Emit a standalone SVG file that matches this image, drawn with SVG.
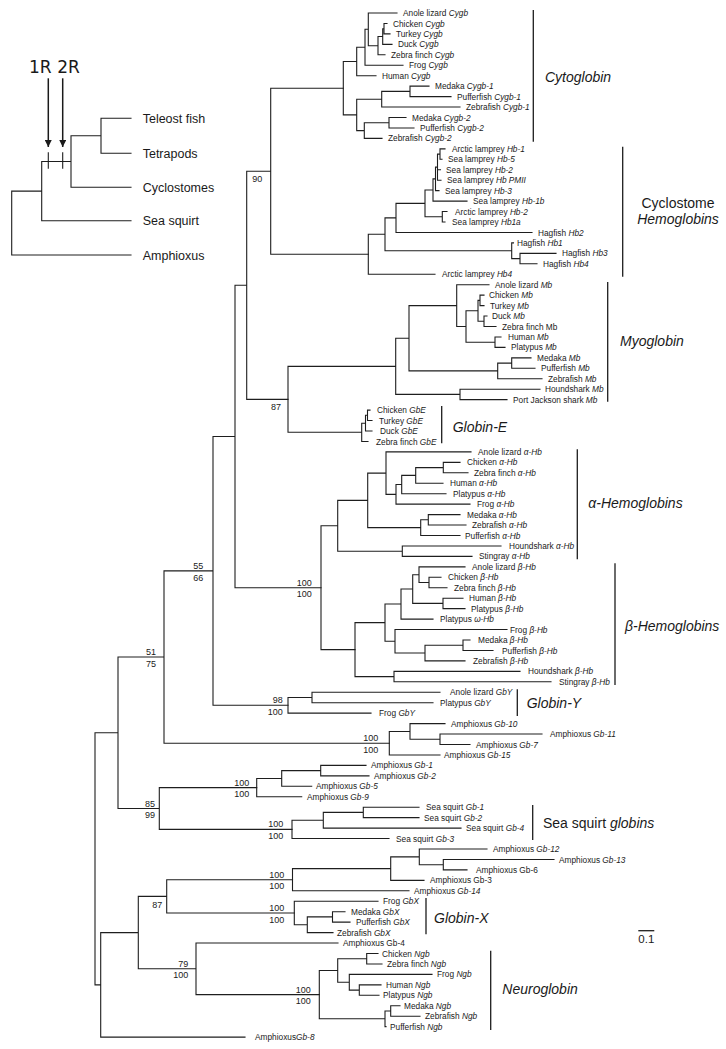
<svg xmlns="http://www.w3.org/2000/svg" width="726" height="1049" viewBox="0 0 726 1049">
<style>
.e{fill:none;stroke:#1e1e1e;stroke-width:1.1;stroke-linecap:square}
.b{fill:none;stroke:#1e1e1e;stroke-width:1.3}
.l{font-family:"Liberation Sans",Arial,sans-serif;font-size:8.3px;fill:#1a1a1a}
.i{font-style:italic}
.s{font-family:"Liberation Sans",Arial,sans-serif;font-size:9px;fill:#1a1a1a;text-anchor:end}
.g{font-family:"Liberation Sans",Arial,sans-serif;font-size:14px;fill:#1a1a1a}
.n{font-family:"Liberation Sans",Arial,sans-serif;font-size:12.5px;fill:#1a1a1a}
.r{font-family:"DejaVu Sans",sans-serif;font-size:17px;fill:#1a1a1a}
</style>
<defs>
<marker id="ah" viewBox="0 0 10 10" refX="10" refY="5" markerWidth="4.6" markerHeight="4.6" orient="auto" markerUnits="strokeWidth">
<path d="M0 0L10 5L0 10Z" fill="#1a1a1a"/>
</marker>
</defs>
<rect width="726" height="1049" fill="#fff"/>

<g id="inset">
<path class="e" d="M11.7 191.1V255M11.7 191.1H41.7M11.7 255H131M41.7 161.5V220.7M41.7 161.5H71M41.7 220.7H131M71 135.8V187.3M71 135.8H101M71 187.3H131M101 118.3V153.3M101 118.3H131M101 153.3H131"/>
<path class="e" d="M48.3 152.7V168.3M62.7 152.7V168.3"/>
<path fill="none" stroke="#1a1a1a" stroke-width="1.5" marker-end="url(#ah)" d="M48.3 78.3V147"/>
<path fill="none" stroke="#1a1a1a" stroke-width="1.5" marker-end="url(#ah)" d="M62.7 78.3V147"/>
<text id="i-1r" class="r" x="29" y="72.7">1R</text>
<text id="i-2r" class="r" x="57.3" y="72.7">2R</text>
<text id="i-teleost" class="n" x="142.7" y="122.8">Teleost fish</text>
<text id="i-tetrapods" class="n" x="142.7" y="157.8">Tetrapods</text>
<text id="i-cyclostomes" class="n" x="142.7" y="191.8">Cyclostomes</text>
<text id="i-seasquirt" class="n" x="142.7" y="225.2">Sea squirt</text>
<text id="i-amphioxus" class="n" x="142.7" y="259.5">Amphioxus</text>
</g>

<g id="connectors">
<path class="e" d="M95 732.8V984.9M95 732.8H118M95 984.9H100.7M118 657.05V808.5M118 657.05H164M118 808.5H159.3M164 570.9V743.2M164 570.9H213M164 743.2H389.3M213 436.5V705.3M213 436.5H235M213 705.3H288M235 285.3V587.7M235 285.3H246.7M235 587.7H321M246.7 171.25V399.4M246.7 171.25H270.7M246.7 399.4H288M270.7 88.2V254.3M270.7 88.2H343.3M270.7 254.3H368.3M100.7 932.6V1037.1M100.7 932.6H138.3M100.7 1037.1H245M138.3 896.4V968.8M138.3 896.4H166.7M138.3 968.8H196M166.7 879.7V913M166.7 879.7H292.5M166.7 913H294.3M159.3 787.6V829.4M159.3 787.6H256.7M159.3 829.4H292M196 943.05V994.6M196 943.05H338M196 994.6H319.3"/>
<path class="e" d="M343.3 61.5V114.9M343.3 61.5H356.7M343.3 114.9H356.7M356.7 47.3V75.7M356.7 47.3H365M356.7 75.7H376M365 29.3V65.25M365 29.3H368.3M365 65.25H403M368.3 13V45.7M368.3 13H397M368.3 45.7H378M378 36.5V54.8M378 36.5H382.7M378 54.8H385M382.7 28.7V44.35M382.7 28.7H384M382.7 44.35H392M384 23.45V33.9M384 23.45H387M384 33.9H390M356.7 99.2V130.6M356.7 99.2H381.7M356.7 130.6H364.3M381.7 91.4V107.05M381.7 91.4H410M381.7 107.05H460M410 86.15V96.6M410 86.15H429M410 96.6H451M364.3 122.7V138.4M364.3 122.7H389M364.3 138.4H382M389 117.5V127.95M389 117.5H406M389 127.95H414"/>
<path class="e" d="M368.3 234.3V274.25M368.3 234.3H385M368.3 274.25H435M385 217.9V250.75M385 217.9H396M385 250.75H511.7M396 203.4V232.45M396 203.4H425M396 232.45H532M425 190V216.8M425 190H433M425 216.8H442.3M433 178.9V201.1M433 178.9H435.5M433 201.1H467M435.5 167.1V190.65M435.5 167.1H437.5M435.5 190.65H439M437.5 154.1V180.2M437.5 154.1H440M437.5 169.75H440.5M437.5 180.2H441M440 148.85V159.3M440 148.85H445M440 159.3H442M442.3 211.55V222M442.3 211.55H447M442.3 222H445M511.7 242.9V258.6M511.7 242.9H513.5M511.7 258.6H520M520 253.35V263.8M520 253.35H556M520 263.8H537"/>
<path class="e" d="M288 366.4V432.3M288 366.4H395.7M288 432.3H361.7M395.7 338.3V394.4M395.7 338.3H409M395.7 394.4H460M409 305.6V370.9M409 305.6H456.7M409 370.9H497.7M456.7 284.7V326.5M456.7 284.7H489M456.7 326.5H466M466 310.8V342.2M466 310.8H478M466 342.2H495M478 300.4V321.3M478 300.4H480M478 321.3H484M480 295.15V305.6M480 295.15H484M480 305.6H484M484 316.05V326.5M484 316.05H487M484 326.5H496M495 336.95V347.4M495 336.95H501M495 347.4H505M497.7 363.1V378.75M497.7 363.1H511.7M497.7 378.75H542M511.7 357.85V368.3M511.7 357.85H531M511.7 368.3H535M460 389.2V399.65M460 389.2H540M460 399.65H507M361.7 423.2V441.45M361.7 423.2H365.5M361.7 441.45H368M365.5 415.3V431M365.5 415.3H367.5M365.5 431H372M367.5 410.1V420.55M367.5 410.1H370M367.5 420.55H372"/>
<path class="e" d="M321 525.8V649.6M321 525.8H337.7M321 649.6H355M337.7 500.4V551.2M337.7 500.4H367.7M337.7 551.2H402.3M367.7 473.1V527.65M367.7 473.1H386M367.7 527.65H420.7M386 451.9V494.35M386 451.9H471M386 494.35H396M396 484.55V504.15M396 484.55H401.7M396 504.15H470M401.7 475.4V493.7M401.7 475.4H415.7M401.7 493.7H446M415.7 467.6V483.25M415.7 467.6H443.3M415.7 483.25H443M443.3 462.35V472.8M443.3 462.35H460M443.3 472.8H468M420.7 519.8V535.5M420.7 519.8H428.3M420.7 535.5H460M428.3 514.6V525.05M428.3 514.6H460M428.3 525.05H466M402.3 545.95V556.4M402.3 545.95H501M402.3 556.4H472"/>
<path class="e" d="M355 622.65V676.6M355 622.65H385M355 676.6H394M385 604V641.3M385 604H401M385 641.3H395M401 589V619.1M401 589H412.7M401 619.1H433M412.7 574.7V603.4M412.7 574.7H419M412.7 603.4H443M419 566.85V582.5M419 566.85H465M419 582.5H429M429 577.3V587.75M429 577.3H441M429 587.75H447M443 598.2V608.65M443 598.2H463M443 608.65H465M395 629.55V653.05M395 629.55H507M395 653.05H425M425 645.2V660.9M425 645.2H463M425 660.9H465M463 640V650.45M463 640H470M463 650.45H493M394 671.35V681.8M394 671.35H520M394 681.8H551"/>
<path class="e" d="M288 697.5V713.15M288 697.5H312M288 713.15H371M312 692.25V702.7M312 692.25H440M312 702.7H433M389.3 731.45V754.95M389.3 731.45H410M389.3 754.95H440M410 723.6V739.3M410 723.6H445M410 739.3H440M440 734.05V744.5M440 734.05H542M440 744.5H470"/>
<path class="e" d="M256.7 778.45V796.75M256.7 778.45H281.7M256.7 796.75H301.7M281.7 770.6V786.3M281.7 770.6H320.7M281.7 786.3H311.7M320.7 765.4V775.85M320.7 765.4H366M320.7 775.85H369M292 820.3V838.55M292 820.3H323.3M292 838.55H389M323.3 812.4V828.1M323.3 812.4H363.3M323.3 828.1H461M363.3 807.2V817.65M363.3 807.2H419M363.3 817.65H419"/>
<path class="e" d="M292.5 868.6V890.8M292.5 868.6H390.7M292.5 890.8H409M390.7 856.9V880.35M390.7 856.9H419.3M390.7 880.35H424M419.3 849V864.7M419.3 849H487M419.3 864.7H443.3M443.3 859.45V869.9M443.3 859.45H554M443.3 869.9H467M294.3 901.25V924.8M294.3 901.25H378M294.3 924.8H307.3M307.3 916.9V932.6M307.3 916.9H332.5M307.3 932.6H333M332.5 911.7V922.15M332.5 911.7H345M332.5 922.15H350"/>
<path class="e" d="M319.3 970.45V1018.8M319.3 970.45H337.7M319.3 1018.8H385M337.7 958.7V982.2M337.7 958.7H366.7M337.7 982.2H349.3M366.7 953.5V963.95M366.7 953.5H378M366.7 963.95H382M349.3 974.4V990.1M349.3 974.4H432M349.3 990.1H359.3M359.3 984.85V995.3M359.3 984.85H381M359.3 995.3H379M385 1011V1026.65M385 1011H390.7M385 1026.65H386M390.7 1005.75V1016.2M390.7 1005.75H400M390.7 1016.2H420"/>
</g>

<g id="brackets">
<path class="b" d="M533.3 10V141.7M622.7 146.7V276.7M607.7 282V401.7M441.7 406V443.3M577.3 449.3V559.3M615 563.3V685M517.3 689.3V716M532.7 805V840M426 898V934.3M490.7 950.7V1030"/>
</g>

<g id="group-labels">
<text id="g-cytoglobin" class="g i" x="545" y="81.7">Cytoglobin</text>
<text id="g-cyclostome" class="g" x="678" y="207.7" text-anchor="middle">Cyclostome</text>
<text id="g-cyclostome-hb" class="g i" x="678" y="224.3" text-anchor="middle">Hemoglobins</text>
<text id="g-myoglobin" class="g i" x="620" y="345.7">Myoglobin</text>
<text id="g-globine" class="g i" x="452.7" y="432.3">Globin-E</text>
<text id="g-alpha" class="g i" x="588.3" y="508.3">α-Hemoglobins</text>
<text id="g-beta" class="g i" x="625" y="631">β-Hemoglobins</text>
<text id="g-globiny" class="g i" x="526.7" y="707.7">Globin-Y</text>
<text id="g-seasquirt" class="g" x="543" y="828.3">Sea squirt <tspan class="i">globins</tspan></text>
<text id="g-globinx" class="g i" x="434" y="923.3">Globin-X</text>
<text id="g-neuroglobin" class="g i" x="502.3" y="994.3">Neuroglobin</text>
</g>

<g id="scale-bar">
<path class="b" d="M638.3 930.7H654.3"/>
<text id="scale-label" x="646.3" y="943" text-anchor="middle" font-family="Liberation Sans, Arial, sans-serif" font-size="11.5" fill="#1a1a1a">0.1</text>
</g>

<g id="support-values">
<text class="s" x="262.3" y="181.5">90</text>
<text class="s" x="281" y="410">87</text>
<text class="s" x="203.3" y="569">55</text>
<text class="s" x="203.3" y="580.5">66</text>
<text class="s" x="311.7" y="585.5">100</text>
<text class="s" x="311.7" y="597">100</text>
<text class="s" x="156" y="654.5">51</text>
<text class="s" x="156" y="666.5">75</text>
<text class="s" x="282.7" y="703.3">98</text>
<text class="s" x="282.7" y="714.8">100</text>
<text class="s" x="378.3" y="741.2">100</text>
<text class="s" x="378.3" y="752.7">100</text>
<text class="s" x="249.3" y="785.6">100</text>
<text class="s" x="249.3" y="797.2">100</text>
<text class="s" x="155" y="806.5">85</text>
<text class="s" x="155" y="818">99</text>
<text class="s" x="283.3" y="827.4">100</text>
<text class="s" x="283.3" y="839">100</text>
<text class="s" x="284.3" y="877.7">100</text>
<text class="s" x="284.3" y="889.3">100</text>
<text class="s" x="284.3" y="911">100</text>
<text class="s" x="284.3" y="922.6">100</text>
<text class="s" x="162.3" y="907.5">87</text>
<text class="s" x="188.3" y="966.8">79</text>
<text class="s" x="188.3" y="978.4">100</text>
<text class="s" x="310.7" y="992.6">100</text>
<text class="s" x="310.7" y="1004.2">100</text>
</g>

<g id="clade-cytoglobin" class="l">
<text id="anole-cygb" x="403" y="16">Anole lizard <tspan class="i">Cygb</tspan></text>
<text id="chicken-cygb" x="393" y="26.5">Chicken <tspan class="i">Cygb</tspan></text>
<text id="turkey-cygb" x="396" y="36.9">Turkey <tspan class="i">Cygb</tspan></text>
<text id="duck-cygb" x="398" y="47.4">Duck <tspan class="i">Cygb</tspan></text>
<text id="zf-cygb" x="391" y="57.8">Zebra finch <tspan class="i">Cygb</tspan></text>
<text id="frog-cygb" x="409" y="68.3">Frog <tspan class="i">Cygb</tspan></text>
<text id="human-cygb" x="382" y="78.7">Human <tspan class="i">Cygb</tspan></text>
<text id="medaka-cygb1" x="435" y="89.2">Medaka <tspan class="i">Cygb-1</tspan></text>
<text id="puffer-cygb1" x="457" y="99.6">Pufferfish <tspan class="i">Cygb-1</tspan></text>
<text id="zebrafish-cygb1" x="466" y="110.1">Zebrafish <tspan class="i">Cygb-1</tspan></text>
<text id="medaka-cygb2" x="412" y="120.5">Medaka <tspan class="i">Cygb-2</tspan></text>
<text id="puffer-cygb2" x="420" y="131">Pufferfish <tspan class="i">Cygb-2</tspan></text>
<text id="zebrafish-cygb2" x="388" y="141.4">Zebrafish <tspan class="i">Cygb-2</tspan></text>
</g>

<g id="clade-cyclostome" class="l">
<text id="al-hb1" x="452" y="151.9">Arctic lamprey <tspan class="i">Hb-1</tspan></text>
<text id="sl-hb5" x="448" y="162.3">Sea lamprey <tspan class="i">Hb-5</tspan></text>
<text id="sl-hb2" x="446" y="172.8">Sea lamprey <tspan class="i">Hb-2</tspan></text>
<text id="sl-pmii" x="447" y="183.2">Sea lamprey <tspan class="i">Hb PMII</tspan></text>
<text id="sl-hb3" x="445" y="193.7">Sea lamprey <tspan class="i">Hb-3</tspan></text>
<text id="sl-hb1b" x="473" y="204.1">Sea lamprey <tspan class="i">Hb-1b</tspan></text>
<text id="al-hb2" x="455" y="214.6">Arctic lamprey <tspan class="i">Hb-2</tspan></text>
<text id="sl-hb1a" x="452" y="225">Sea lamprey <tspan class="i">Hb1a</tspan></text>
<text id="hf-hb2" x="538" y="235.5">Hagfish <tspan class="i">Hb2</tspan></text>
<text id="hf-hb1" x="517" y="245.9">Hagfish <tspan class="i">Hb1</tspan></text>
<text id="hf-hb3" x="562" y="256.4">Hagfish <tspan class="i">Hb3</tspan></text>
<text id="hf-hb4" x="543" y="266.8">Hagfish <tspan class="i">Hb4</tspan></text>
<text id="al-hb4" x="442" y="277.3">Arctic lamprey <tspan class="i">Hb4</tspan></text>
</g>

<g id="clade-myoglobin" class="l">
<text id="anole-mb" x="495" y="287.7">Anole lizard <tspan class="i">Mb</tspan></text>
<text id="chicken-mb" x="489" y="298.2">Chicken <tspan class="i">Mb</tspan></text>
<text id="turkey-mb" x="490" y="308.6">Turkey <tspan class="i">Mb</tspan></text>
<text id="duck-mb" x="492" y="319.1">Duck <tspan class="i">Mb</tspan></text>
<text id="zf-mb" x="502" y="329.5">Zebra finch Mb</text>
<text id="human-mb" x="508" y="340">Human <tspan class="i">Mb</tspan></text>
<text id="platypus-mb" x="511" y="350.4">Platypus <tspan class="i">Mb</tspan></text>
<text id="medaka-mb" x="537" y="360.9">Medaka <tspan class="i">Mb</tspan></text>
<text id="puffer-mb" x="541" y="371.3">Pufferfish <tspan class="i">Mb</tspan></text>
<text id="zebrafish-mb" x="548" y="381.8">Zebrafish <tspan class="i">Mb</tspan></text>
<text id="houndshark-mb" x="545" y="392.2">Houndshark <tspan class="i">Mb</tspan></text>
<text id="pjshark-mb" x="513" y="402.7">Port Jackson shark <tspan class="i">Mb</tspan></text>
</g>

<g id="clade-globin-e" class="l">
<text id="chicken-gbe" x="377" y="413.1">Chicken <tspan class="i">GbE</tspan></text>
<text id="turkey-gbe" x="379" y="423.6">Turkey <tspan class="i">GbE</tspan></text>
<text id="duck-gbe" x="380" y="434">Duck <tspan class="i">GbE</tspan></text>
<text id="zf-gbe" x="376" y="444.5">Zebra finch <tspan class="i">GbE</tspan></text>
</g>

<g id="clade-alpha" class="l">
<text id="anole-ahb" x="478" y="454.9">Anole lizard <tspan class="i">α-Hb</tspan></text>
<text id="chicken-ahb" x="467" y="465.4">Chicken <tspan class="i">α-Hb</tspan></text>
<text id="zf-ahb" x="474" y="475.8">Zebra finch <tspan class="i">α-Hb</tspan></text>
<text id="human-ahb" x="450" y="486.3">Human <tspan class="i">α-Hb</tspan></text>
<text id="platypus-ahb" x="453" y="496.7">Platypus <tspan class="i">α-Hb</tspan></text>
<text id="frog-ahb" x="477" y="507.2">Frog <tspan class="i">α-Hb</tspan></text>
<text id="medaka-ahb" x="467" y="517.6">Medaka <tspan class="i">α-Hb</tspan></text>
<text id="zebrafish-ahb" x="472" y="528.1">Zebrafish <tspan class="i">α-Hb</tspan></text>
<text id="puffer-ahb" x="465" y="538.5">Pufferfish <tspan class="i">α-Hb</tspan></text>
<text id="houndshark-ahb" x="509" y="549">Houndshark <tspan class="i">α-Hb</tspan></text>
<text id="stingray-ahb" x="479" y="559.4">Stingray <tspan class="i">α-Hb</tspan></text>
</g>

<g id="clade-beta" class="l">
<text id="anole-bhb" x="472" y="569.9">Anole lizard <tspan class="i">β-Hb</tspan></text>
<text id="chicken-bhb" x="448" y="580.3">Chicken <tspan class="i">β-Hb</tspan></text>
<text id="zf-bhb" x="454" y="590.8">Zebra finch <tspan class="i">β-Hb</tspan></text>
<text id="human-bhb" x="469" y="601.2">Human <tspan class="i">β-Hb</tspan></text>
<text id="platypus-bhb" x="471" y="611.7">Platypus <tspan class="i">β-Hb</tspan></text>
<text id="platypus-whb" x="440" y="622.1">Platypus <tspan class="i">ω-Hb</tspan></text>
<text id="frog-bhb" x="510" y="632.6">Frog <tspan class="i">β-Hb</tspan></text>
<text id="medaka-bhb" x="478" y="643">Medaka <tspan class="i">β-Hb</tspan></text>
<text id="puffer-bhb" x="502" y="653.5">Pufferfish <tspan class="i">β-Hb</tspan></text>
<text id="zebrafish-bhb" x="473" y="663.9">Zebrafish <tspan class="i">β-Hb</tspan></text>
<text id="houndshark-bhb" x="528" y="674.4">Houndshark <tspan class="i">β-Hb</tspan></text>
<text id="stingray-bhb" x="559" y="684.8">Stingray <tspan class="i">β-Hb</tspan></text>
</g>

<g id="clade-globin-y" class="l">
<text id="anole-gby" x="450" y="695.3">Anole lizard <tspan class="i">GbY</tspan></text>
<text id="platypus-gby" x="440" y="705.7">Platypus <tspan class="i">GbY</tspan></text>
<text id="frog-gby" x="379" y="716.2">Frog <tspan class="i">GbY</tspan></text>
</g>

<g id="clade-amphioxus-a" class="l">
<text id="amph-gb10" x="451" y="726.6">Amphioxus <tspan class="i">Gb-10</tspan></text>
<text id="amph-gb11" x="550" y="737.1">Amphioxus <tspan class="i">Gb-11</tspan></text>
<text id="amph-gb7" x="476" y="747.5">Amphioxus <tspan class="i">Gb-7</tspan></text>
<text id="amph-gb15" x="444" y="758">Amphioxus <tspan class="i">Gb-15</tspan></text>
<text id="amph-gb1" x="371" y="768.4">Amphioxus <tspan class="i">Gb-1</tspan></text>
<text id="amph-gb2" x="374" y="778.9">Amphioxus <tspan class="i">Gb-2</tspan></text>
<text id="amph-gb5" x="316" y="789.3">Amphioxus <tspan class="i">Gb-5</tspan></text>
<text id="amph-gb9" x="307" y="799.8">Amphioxus <tspan class="i">Gb-9</tspan></text>
</g>

<g id="clade-sea-squirt" class="l">
<text id="ss-gb1" x="426" y="810.2">Sea squirt <tspan class="i">Gb-1</tspan></text>
<text id="ss-gb2" x="424" y="820.7">Sea squirt <tspan class="i">Gb-2</tspan></text>
<text id="ss-gb4" x="466" y="831.1">Sea squirt <tspan class="i">Gb-4</tspan></text>
<text id="ss-gb3" x="396" y="841.6">Sea squirt <tspan class="i">Gb-3</tspan></text>
</g>

<g id="clade-amphioxus-b" class="l">
<text id="amph-gb12" x="493" y="852">Amphioxus <tspan class="i">Gb-12</tspan></text>
<text id="amph-gb13" x="559" y="862.5">Amphioxus <tspan class="i">Gb-13</tspan></text>
<text id="amph-gb6" x="476" y="872.9">Amphioxus Gb-6</text>
<text id="amph-gb3" x="430" y="883.4">Amphioxus Gb-3</text>
<text id="amph-gb14" x="414" y="893.8">Amphioxus <tspan class="i">Gb-14</tspan></text>
</g>

<g id="clade-globin-x" class="l">
<text id="frog-gbx" x="383" y="904.3">Frog <tspan class="i">GbX</tspan></text>
<text id="medaka-gbx" x="351" y="914.7">Medaka <tspan class="i">GbX</tspan></text>
<text id="puffer-gbx" x="356" y="925.2">Pufferfish <tspan class="i">GbX</tspan></text>
<text id="zebrafish-gbx" x="337" y="935.6">Zebrafish <tspan class="i">GbX</tspan></text>
<text id="amph-gb4" x="343" y="946.1">Amphioxus Gb-4</text>
</g>

<g id="clade-neuroglobin" class="l">
<text id="chicken-ngb" x="382" y="956.5">Chicken <tspan class="i">Ngb</tspan></text>
<text id="zf-ngb" x="387" y="967">Zebra finch <tspan class="i">Ngb</tspan></text>
<text id="frog-ngb" x="437" y="977.4">Frog <tspan class="i">Ngb</tspan></text>
<text id="human-ngb" x="386" y="987.9">Human <tspan class="i">Ngb</tspan></text>
<text id="platypus-ngb" x="383" y="998.3">Platypus <tspan class="i">Ngb</tspan></text>
<text id="medaka-ngb" x="404" y="1008.8">Medaka <tspan class="i">Ngb</tspan></text>
<text id="zebrafish-ngb" x="425" y="1019.2">Zebrafish <tspan class="i">Ngb</tspan></text>
<text id="puffer-ngb" x="390" y="1029.7">Pufferfish <tspan class="i">Ngb</tspan></text>
<text id="amph-gb8" x="255" y="1040.1">Amphioxus<tspan class="i">Gb-8</tspan></text>
</g>
</svg>
